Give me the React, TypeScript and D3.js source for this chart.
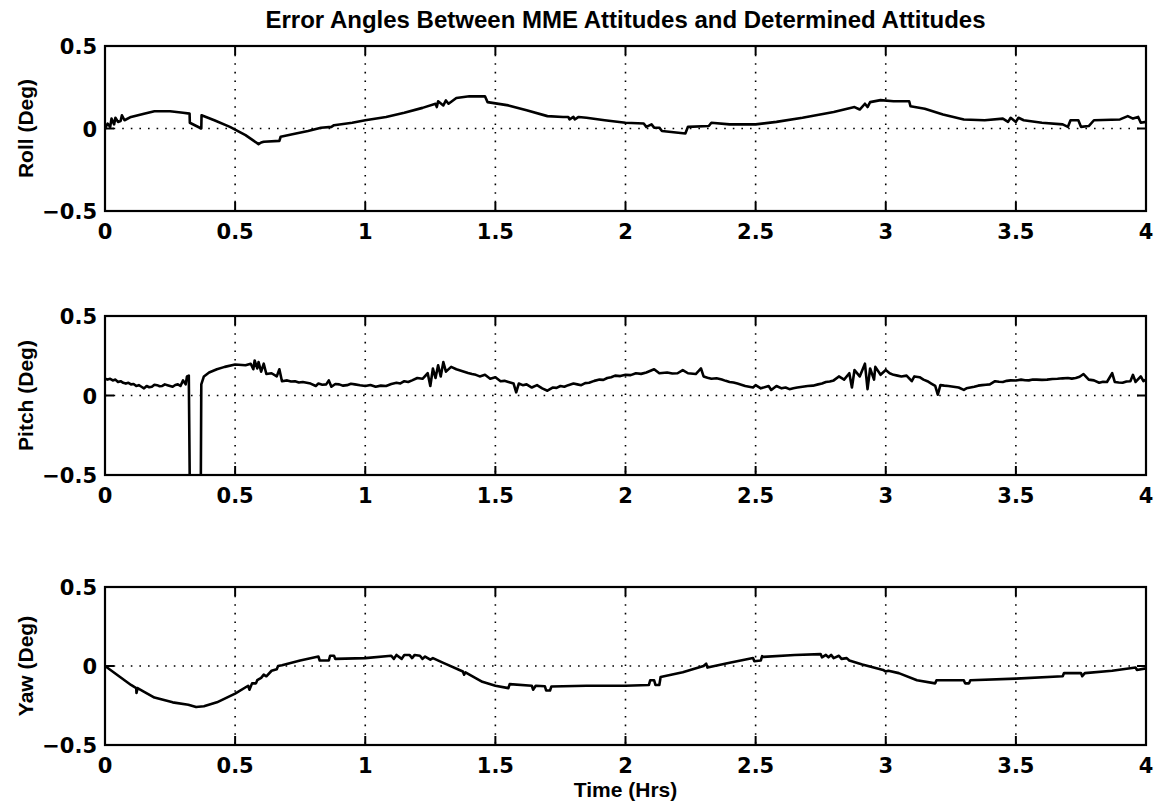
import React from 'react';
import * as d3 from 'd3';

// chart text
const chartTitle = 'Error Angles Between MME Attitudes and Determined Attitudes';
const xAxisLabel = 'Time (Hrs)';
const xTicks = [0, 0.5, 1, 1.5, 2, 2.5, 3, 3.5, 4];
const yTicks = [-0.5, 0, 0.5];

// [time (hrs), error (deg)]
const rollData: [number, number][] = [
  [0, 0.0], [0.01, 0.03], [0.02, 0.01], [0.025, 0.06], [0.035, 0.025], [0.04, 0.065], [0.05, 0.04],
  [0.06, 0.045], [0.065, 0.08], [0.075, 0.05], [0.1, 0.07], [0.15, 0.09], [0.19, 0.105], [0.25, 0.105],
  [0.3, 0.095], [0.325, 0.09], [0.326, 0.035], [0.37, 0.0], [0.371, 0.08], [0.42, 0.05], [0.48, 0.01],
  [0.54, -0.04], [0.59, -0.095], [0.6, -0.085], [0.61, -0.08], [0.67, -0.075], [0.675, -0.05],
  [0.72, -0.035], [0.78, -0.015], [0.83, 0.005], [0.87, 0.01], [0.88, 0.02], [0.95, 0.035], [1.0, 0.05],
  [1.08, 0.07], [1.15, 0.095], [1.22, 0.125], [1.27, 0.15], [1.275, 0.13], [1.28, 0.165], [1.3, 0.14],
  [1.31, 0.17], [1.32, 0.15], [1.35, 0.185], [1.4, 0.195], [1.46, 0.195], [1.47, 0.16], [1.55, 0.14],
  [1.62, 0.11], [1.7, 0.075], [1.76, 0.07], [1.78, 0.07], [1.785, 0.055], [1.8, 0.07], [1.805, 0.055],
  [1.82, 0.07], [1.85, 0.065], [1.92, 0.05], [2.0, 0.035], [2.07, 0.03], [2.08, 0.01], [2.1, 0.025],
  [2.11, 0.005], [2.13, 0.005], [2.14, -0.015], [2.23, -0.03], [2.24, 0.01], [2.32, 0.015], [2.33, 0.035],
  [2.4, 0.025], [2.5, 0.025], [2.58, 0.04], [2.68, 0.065], [2.8, 0.1], [2.88, 0.13], [2.9, 0.115],
  [2.92, 0.15], [2.93, 0.13], [2.94, 0.16], [2.98, 0.172], [3.03, 0.165], [3.09, 0.165], [3.095, 0.135],
  [3.15, 0.12], [3.22, 0.085], [3.3, 0.055], [3.38, 0.05], [3.45, 0.06], [3.47, 0.04], [3.48, 0.065],
  [3.5, 0.04], [3.51, 0.065], [3.53, 0.05], [3.6, 0.035], [3.68, 0.025], [3.7, 0.01], [3.71, 0.05],
  [3.74, 0.05], [3.75, 0.01], [3.78, 0.015], [3.8, 0.05], [3.9, 0.055], [3.93, 0.075], [3.95, 0.06],
  [3.97, 0.07], [3.98, 0.035], [4.0, 0.04],
];

const pitchData: [number, number][] = [
  [0, 0.105], [0.01, 0.1], [0.02, 0.105], [0.03, 0.095], [0.04, 0.1], [0.05, 0.085], [0.06, 0.09],
  [0.07, 0.08], [0.08, 0.075], [0.09, 0.08], [0.1, 0.07], [0.11, 0.072], [0.12, 0.06], [0.13, 0.065],
  [0.14, 0.055], [0.15, 0.045], [0.16, 0.06], [0.17, 0.052], [0.18, 0.055], [0.19, 0.068], [0.2, 0.065],
  [0.21, 0.058], [0.22, 0.06], [0.23, 0.07], [0.24, 0.065], [0.25, 0.06], [0.26, 0.055], [0.27, 0.066],
  [0.28, 0.07], [0.29, 0.06], [0.3, 0.095], [0.31, 0.07], [0.315, 0.12], [0.322, 0.125],
  [0.326, -0.6], [0.368, -0.6], [0.37, 0.07], [0.38, 0.12], [0.4, 0.145], [0.43, 0.165], [0.46, 0.18],
  [0.5, 0.195], [0.54, 0.19], [0.56, 0.2], [0.57, 0.165], [0.575, 0.22], [0.585, 0.17], [0.59, 0.21],
  [0.6, 0.15], [0.61, 0.2], [0.62, 0.135], [0.64, 0.14], [0.66, 0.12], [0.67, 0.165], [0.68, 0.09],
  [0.7, 0.095], [0.715, 0.088], [0.73, 0.09], [0.745, 0.082], [0.76, 0.085], [0.775, 0.08], [0.79, 0.075],
  [0.81, 0.06], [0.82, 0.075], [0.835, 0.068], [0.85, 0.07], [0.86, 0.095], [0.87, 0.055], [0.885, 0.072],
  [0.9, 0.07], [0.915, 0.062], [0.93, 0.065], [0.945, 0.074], [0.96, 0.07], [0.98, 0.064], [1.0, 0.06],
  [1.02, 0.066], [1.04, 0.055], [1.06, 0.062], [1.08, 0.06], [1.1, 0.072], [1.12, 0.08], [1.135, 0.076],
  [1.15, 0.09], [1.165, 0.085], [1.18, 0.095], [1.2, 0.11], [1.22, 0.105], [1.24, 0.14],
  [1.25, 0.06], [1.26, 0.17], [1.27, 0.11], [1.28, 0.19], [1.29, 0.12], [1.3, 0.21], [1.31, 0.15],
  [1.33, 0.18], [1.35, 0.165], [1.38, 0.15], [1.395, 0.142], [1.41, 0.135], [1.425, 0.13], [1.44, 0.12],
  [1.46, 0.13], [1.48, 0.105], [1.5, 0.115], [1.52, 0.09], [1.535, 0.092], [1.55, 0.085], [1.57, 0.075],
  [1.58, 0.02], [1.59, 0.075], [1.605, 0.065], [1.62, 0.07], [1.64, 0.05], [1.66, 0.065], [1.68, 0.045],
  [1.7, 0.03], [1.72, 0.05], [1.735, 0.048], [1.75, 0.06], [1.765, 0.055], [1.78, 0.065], [1.8, 0.075],
  [1.815, 0.07], [1.83, 0.065], [1.845, 0.078], [1.86, 0.08], [1.88, 0.092], [1.9, 0.1], [1.915, 0.098],
  [1.93, 0.11], [1.945, 0.115], [1.96, 0.125], [1.98, 0.122], [2.0, 0.13], [2.02, 0.128], [2.04, 0.14],
  [2.06, 0.136], [2.08, 0.145], [2.11, 0.165], [2.13, 0.14], [2.16, 0.145], [2.18, 0.138], [2.2, 0.14],
  [2.22, 0.16], [2.24, 0.14], [2.27, 0.135], [2.29, 0.17], [2.3, 0.12], [2.315, 0.112], [2.33, 0.105],
  [2.35, 0.108], [2.37, 0.1], [2.385, 0.092], [2.4, 0.085], [2.415, 0.082], [2.43, 0.075], [2.445, 0.068],
  [2.46, 0.06], [2.49, 0.05], [2.5, 0.065], [2.52, 0.045], [2.55, 0.06], [2.56, 0.035], [2.58, 0.06],
  [2.6, 0.045], [2.615, 0.05], [2.63, 0.04], [2.645, 0.046], [2.66, 0.05], [2.68, 0.055], [2.7, 0.06],
  [2.72, 0.062], [2.74, 0.07], [2.755, 0.075], [2.77, 0.085], [2.785, 0.088], [2.8, 0.095], [2.82, 0.12],
  [2.84, 0.1], [2.86, 0.14], [2.87, 0.05], [2.88, 0.16], [2.9, 0.12], [2.92, 0.2], [2.93, 0.04],
  [2.94, 0.17], [2.955, 0.1], [2.96, 0.18], [2.98, 0.13], [3.0, 0.16], [3.015, 0.14], [3.03, 0.13],
  [3.045, 0.125], [3.06, 0.12], [3.08, 0.125], [3.1, 0.09], [3.11, 0.12], [3.13, 0.115], [3.145, 0.1],
  [3.16, 0.09], [3.175, 0.075], [3.19, 0.06], [3.2, 0.005], [3.21, 0.065], [3.225, 0.062], [3.24, 0.06],
  [3.26, 0.055], [3.28, 0.05], [3.3, 0.035], [3.31, 0.045], [3.325, 0.05], [3.34, 0.055], [3.355, 0.062],
  [3.37, 0.065], [3.385, 0.068], [3.4, 0.07], [3.42, 0.09], [3.435, 0.086], [3.45, 0.085], [3.465, 0.092],
  [3.48, 0.095], [3.5, 0.094], [3.52, 0.1], [3.535, 0.096], [3.55, 0.095], [3.565, 0.1], [3.58, 0.1],
  [3.6, 0.098], [3.62, 0.1], [3.64, 0.104], [3.66, 0.105], [3.68, 0.108], [3.7, 0.11], [3.715, 0.106],
  [3.73, 0.11], [3.745, 0.118], [3.76, 0.135], [3.78, 0.1], [3.8, 0.095], [3.82, 0.08], [3.835, 0.086],
  [3.85, 0.085], [3.87, 0.14], [3.88, 0.085], [3.895, 0.082], [3.91, 0.08], [3.925, 0.088], [3.94, 0.09],
  [3.95, 0.13], [3.96, 0.085], [3.98, 0.12], [3.99, 0.09], [4.0, 0.1],
];

const yawData: [number, number][] = [
  [0, 0.0], [0.05, -0.06], [0.1, -0.12], [0.12, -0.14], [0.121, -0.17], [0.125, -0.14], [0.19, -0.2],
  [0.26, -0.23], [0.32, -0.245], [0.35, -0.26], [0.38, -0.255], [0.43, -0.23], [0.5, -0.175],
  [0.55, -0.125], [0.555, -0.15], [0.565, -0.11], [0.58, -0.11], [0.585, -0.09], [0.6, -0.075],
  [0.61, -0.055], [0.62, -0.065], [0.64, -0.03], [0.66, -0.02], [0.665, 0.0], [0.68, 0.005],
  [0.75, 0.035], [0.82, 0.06], [0.825, 0.035], [0.86, 0.035], [0.865, 0.065], [0.88, 0.065],
  [0.885, 0.045], [1.0, 0.05], [1.1, 0.065], [1.11, 0.045], [1.12, 0.07], [1.14, 0.045], [1.15, 0.07],
  [1.17, 0.07], [1.18, 0.05], [1.19, 0.07], [1.21, 0.065], [1.22, 0.045], [1.23, 0.06], [1.25, 0.04],
  [1.26, 0.05], [1.3, 0.02], [1.375, -0.035], [1.38, -0.055], [1.385, -0.04], [1.45, -0.1],
  [1.5, -0.125], [1.55, -0.14], [1.555, -0.115], [1.64, -0.125], [1.645, -0.15], [1.655, -0.125],
  [1.69, -0.128], [1.695, -0.155], [1.71, -0.155], [1.715, -0.13], [1.85, -0.125], [2.0, -0.125],
  [2.09, -0.12], [2.095, -0.09], [2.11, -0.09], [2.115, -0.12], [2.13, -0.12], [2.135, -0.07],
  [2.22, -0.04], [2.3, 0.0], [2.31, 0.015], [2.315, -0.01], [2.4, 0.02], [2.49, 0.05], [2.495, 0.03],
  [2.52, 0.035], [2.525, 0.062], [2.53, 0.058], [2.65, 0.07], [2.75, 0.075], [2.755, 0.055], [2.77, 0.07],
  [2.78, 0.055], [2.79, 0.07], [2.8, 0.05], [2.82, 0.065], [2.83, 0.045], [2.85, 0.05], [2.86, 0.035],
  [2.91, 0.01], [2.99, -0.025], [3.0, -0.035], [3.01, -0.03], [3.05, -0.045], [3.12, -0.09],
  [3.19, -0.11], [3.195, -0.09], [3.3, -0.09], [3.305, -0.11], [3.32, -0.11], [3.325, -0.09],
  [3.5, -0.08], [3.68, -0.065], [3.685, -0.045], [3.75, -0.045], [3.755, -0.065], [3.765, -0.045],
  [3.87, -0.03], [3.96, -0.01], [3.965, -0.025], [4.0, -0.015],
];

const panelLabels = ['Roll (Deg)', 'Pitch (Deg)', 'Yaw (Deg)'];
const panelSeries = [rollData, pitchData, yawData];

const W = 1161;
const H = 808;
const left = 105;
const right = 1146;
const frames = [
  { top: 46, bottom: 211 },
  { top: 316, bottom: 475 },
  { top: 587, bottom: 745 },
];

const tickFont = '"DejaVu Sans", sans-serif';
const labelFont = '"Liberation Sans", Arial, sans-serif';

const x = d3.scaleLinear().domain([0, 4]).range([left, right]);

const Panel = ({ idx }: { idx: number }) => {
  const { top, bottom } = frames[idx];
  const y = d3.scaleLinear().domain([-0.5, 0.5]).range([bottom, top]);
  const line = d3
    .line<[number, number]>()
    .x((d) => x(d[0]))
    .y((d) => y(d[1]));
  const clipId = `clip-${idx}`;
  const tickLen = 9;

  return (
    <g>
      <defs>
        <clipPath id={clipId}>
          <rect x={left} y={top} width={right - left} height={bottom - top} />
        </clipPath>
      </defs>
      {/* dotted grid */}
      {xTicks.slice(1, -1).map((t) => (
        <line key={'gx' + t} x1={x(t)} x2={x(t)} y1={top} y2={bottom}
          stroke="#000" strokeWidth={1.6} strokeDasharray="1.6 7" />
      ))}
      {yTicks.slice(1, -1).map((v) => (
        <line key={'gy' + v} x1={left} x2={right} y1={y(v)} y2={y(v)}
          stroke="#000" strokeWidth={1.6} strokeDasharray="1.6 7" />
      ))}
      {/* tick marks inside the frame */}
      {xTicks.map((t) => (
        <g key={'tx' + t}>
          <line x1={x(t)} x2={x(t)} y1={top} y2={top + tickLen} stroke="#000" strokeWidth={2} />
          <line x1={x(t)} x2={x(t)} y1={bottom} y2={bottom - tickLen} stroke="#000" strokeWidth={2} />
        </g>
      ))}
      {yTicks.map((v) => (
        <g key={'ty' + v}>
          <line x1={left} x2={left + tickLen} y1={y(v)} y2={y(v)} stroke="#000" strokeWidth={2} />
          <line x1={right} x2={right - tickLen} y1={y(v)} y2={y(v)} stroke="#000" strokeWidth={2} />
        </g>
      ))}
      {/* data */}
      <path d={line(panelSeries[idx]) ?? ''} fill="none" stroke="#000" strokeWidth={2.6}
        strokeLinejoin="round" clipPath={`url(#${clipId})`} />
      <rect x={left} y={top} width={right - left} height={bottom - top}
        fill="none" stroke="#000" strokeWidth={2.2} />
      {/* tick labels */}
      {xTicks.map((t) => (
        <text key={'lx' + t} x={x(t)} y={bottom + 28} textAnchor="middle"
          fontFamily={tickFont} fontWeight="bold" fontSize={21}>{String(t)}</text>
      ))}
      {yTicks.map((v) => (
        <text key={'ly' + v} x={left - 8} y={y(v) + 8} textAnchor="end"
          fontFamily={tickFont} fontWeight="bold" fontSize={21}>
          {v < 0 ? '\u2212' + String(-v) : String(v)}
        </text>
      ))}
      <text transform={`translate(33,${(top + bottom) / 2}) rotate(-90)`} textAnchor="middle"
        fontFamily={labelFont} fontWeight="bold" fontSize={21}>{panelLabels[idx]}</text>
    </g>
  );
};

export default function App() {
  return (
    <svg width={W} height={H} style={{ position: 'absolute', left: 0, top: 0, background: '#fff' }}>
      <rect width={W} height={H} fill="#fff" />
      <text x={(left + right) / 2} y={28} textAnchor="middle" fontFamily={labelFont}
        fontWeight="bold" fontSize={24}>{chartTitle}</text>
      {frames.map((_, i) => <Panel key={i} idx={i} />)}
      <text x={(left + right) / 2} y={797} textAnchor="middle" fontFamily={labelFont}
        fontWeight="bold" fontSize={21}>{xAxisLabel}</text>
    </svg>
  );
}
